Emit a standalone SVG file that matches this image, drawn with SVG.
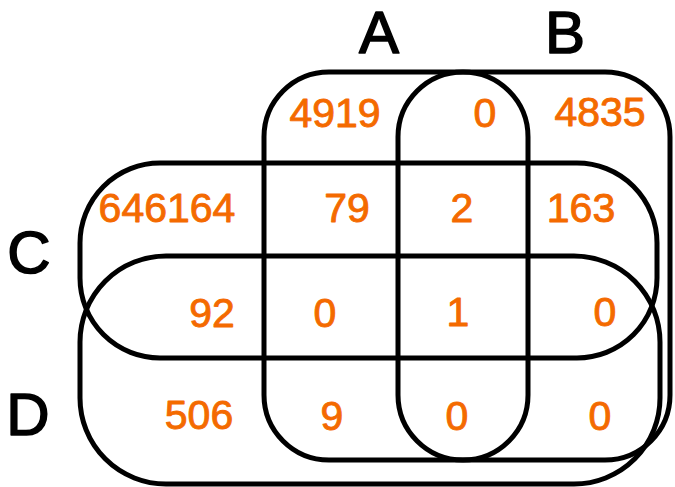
<svg xmlns="http://www.w3.org/2000/svg" width="675" height="487" viewBox="0 0 675 487">
  <style>
    .set { fill: none; stroke: #000; stroke-width: 5; }
    .name { font-family: "Liberation Sans", "DejaVu Sans", sans-serif; font-size: 60px; fill: #000; stroke: #000; stroke-width: 1.6; stroke-linejoin: round; text-anchor: middle; }
    .count { font-family: "Liberation Sans", "DejaVu Sans", sans-serif; font-size: 41px; fill: #F46A00; stroke: #F46A00; stroke-width: 0.9; stroke-linejoin: round; text-anchor: middle; }
  </style>
  <rect width="675" height="487" fill="#fff"/>

  <!-- four overlapping sets -->
  <g id="set-A">
    <rect class="set" x="264" y="72" width="264" height="388" rx="65" ry="65"/>
    <text class="name" x="379" y="53">A</text>
  </g>
  <g id="set-B">
    <rect class="set" x="398" y="72" width="272" height="388" rx="65" ry="65"/>
    <text class="name" x="565" y="53">B</text>
  </g>
  <g id="set-C">
    <rect class="set" x="80" y="163" width="577" height="195" rx="80" ry="80"/>
    <text class="name" x="29" y="273">C</text>
  </g>
  <g id="set-D">
    <rect class="set" x="80" y="256" width="580" height="228" rx="86" ry="86"/>
    <text class="name" x="28" y="435">D</text>
  </g>

  <!-- region counts -->
  <g id="counts">
    <text class="count" x="335" y="127">4919</text>
    <text class="count" x="485" y="127">0</text>
    <text class="count" x="600" y="126">4835</text>

    <text class="count" x="167" y="222">646164</text>
    <text class="count" x="347" y="222">79</text>
    <text class="count" x="462" y="222">2</text>
    <text class="count" x="581" y="222">163</text>

    <text class="count" x="212" y="327">92</text>
    <text class="count" x="325" y="327">0</text>
    <text class="count" x="458" y="326">1</text>
    <text class="count" x="605" y="326">0</text>

    <text class="count" x="199" y="429">506</text>
    <text class="count" x="332" y="430">9</text>
    <text class="count" x="457" y="430">0</text>
    <text class="count" x="600" y="430">0</text>
  </g>
</svg>
